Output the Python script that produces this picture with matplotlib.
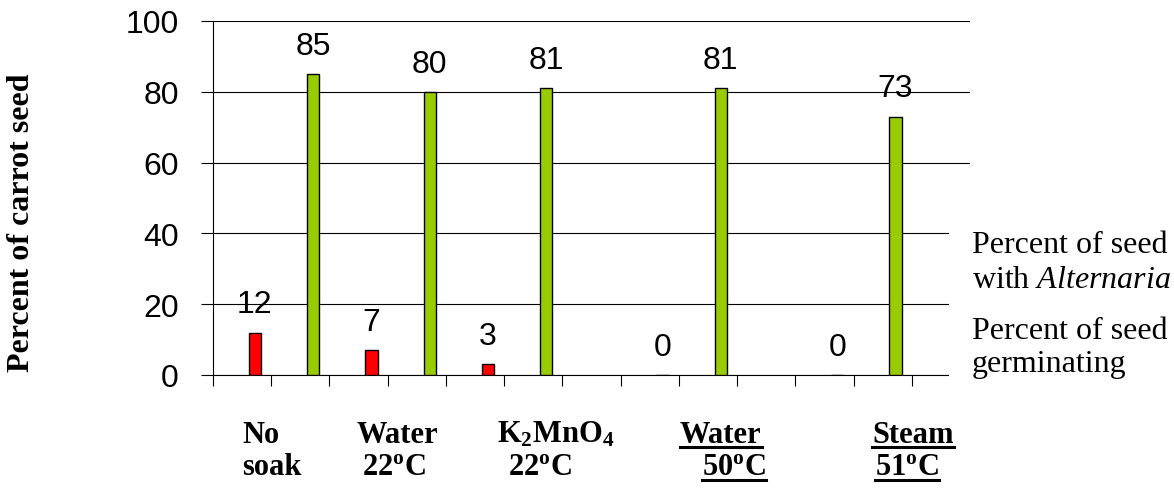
import matplotlib
matplotlib.use("Agg")
import matplotlib.pyplot as plt
from matplotlib.lines import Line2D
from matplotlib.patches import Rectangle

# --- data ---
alternaria = [12, 7, 3, 0, 0]        # percent of seed with Alternaria
germinating = [85, 80, 81, 81, 73]   # percent of seed germinating
alt_slot = [0, 2, 4, 7, 10]          # category slot of each red bar
germ_slot = [1, 3, 5, 8, 11]         # category slot of each green bar
n_slots = 13

# treatment labels (two lines each), underline flag
label_line1 = ['No', 'Water', r'K$_{\mathbf{2}}$MnO$_{\mathbf{4}}$', 'Water', 'Steam']
label_line2 = ['soak', r'22$^{\mathbf{o}}$C', r'22$^{\mathbf{o}}$C', r'50$^{\mathbf{o}}$C', r'51$^{\mathbf{o}}$C']
underlined = [False, False, False, True, True]

# --- style ---
plt.rcParams['font.family'] = 'Liberation Sans'
plt.rcParams['mathtext.fontset'] = 'custom'
plt.rcParams['mathtext.rm'] = 'Liberation Serif'
plt.rcParams['mathtext.bf'] = 'Liberation Serif:bold'
plt.rcParams['mathtext.it'] = 'Liberation Serif:italic'

W, H = 1174, 489
fig = plt.figure(figsize=(W / 100, H / 100), dpi=100)
ax = fig.add_axes([213 / W, 1 - 376 / H, 757 / W, 354 / H])

bar_w = 0.21
off = 0.72
red_x = [s + off for s in alt_slot]
green_x = [s + off for s in germ_slot]

ax.bar(red_x, alternaria, width=bar_w, color='#FF0000', edgecolor='black', linewidth=1.0, zorder=3)
ax.bar(green_x, germinating, width=bar_w, color='#99CC00', edgecolor='black', linewidth=1.0, zorder=3)

# value labels
for x, v in zip(red_x + green_x, alternaria + germinating):
    ax.annotate(f'{v}', (x, v), xytext=(0, 14.5), textcoords='offset points',
                ha='center', va='baseline', fontsize=23, family='Liberation Sans')

# axes
ax.set_xlim(0, n_slots)
ax.set_ylim(0, 100)
ax.set_yticks(range(0, 101, 20))
ax.set_xticks(range(0, n_slots + 1))
ax.set_xticklabels([])
ax.yaxis.grid(True, color='black', linewidth=0.8)
ax.set_axisbelow(True)
for s in ['top', 'right']:
    ax.spines[s].set_visible(False)
for s in ['left', 'bottom']:
    ax.spines[s].set_linewidth(0.8)
ax.tick_params(axis='y', direction='out', length=8.5, width=0.8, pad=16, labelsize=23)
ax.tick_params(axis='x', direction='out', length=8, width=0.8)

# y label
fig.text(22 / W, 1 - 223 / H, 'Percent of carrot seed', rotation=90, ha='center', va='center',
         fontsize=23, fontweight='bold', family='Liberation Serif')

# white legend area covering right end of plot
fig.patches.append(Rectangle((949 / W, 1 - 395 / H), 1 - 949 / W, (395 - 200) / H,
                             transform=fig.transFigure, facecolor='white', edgecolor='none', zorder=5))

legend_lines = [('Percent of seed', 253), (r'with $\mathit{Alternaria}$', 288),
                ('Percent of seed', 339), ('germinating', 372)]
for txt, yb in legend_lines:
    fig.text(972 / W, 1 - yb / H, txt, ha='left', va='baseline', fontsize=23,
             family='Liberation Serif', zorder=6)

# treatment labels
line1_x = [242, 357, 497, 680, 872]
line2_x = [242, 362, 508, 702, 875]
base1, base2 = 443, 475
texts = []
for i in range(len(label_line1)):
    t1 = fig.text(line1_x[i] / W, 1 - base1 / H, label_line1[i], ha='left', va='baseline',
                  fontsize=22, fontweight='bold', family='Liberation Serif')
    t2 = fig.text(line2_x[i] / W, 1 - base2 / H, label_line2[i], ha='left', va='baseline',
                  fontsize=22, fontweight='bold', family='Liberation Serif')
    texts.append((t1, t2))

renderer = fig.canvas.get_renderer()
for (t1, t2), u in zip(texts, underlined):
    if not u:
        continue
    for t, yb in [(t1, base1 + 5), (t2, base2 + 6)]:
        bb = t.get_window_extent(renderer)
        fig.lines.append(Line2D([bb.x0 / W, bb.x1 / W], [1 - yb / H, 1 - yb / H],
                                transform=fig.transFigure, color='black', linewidth=2.2))

fig.savefig('out.png', dpi=100)
